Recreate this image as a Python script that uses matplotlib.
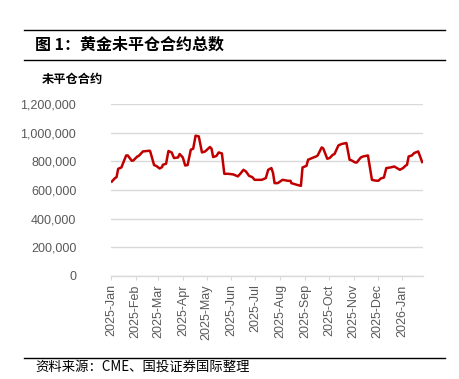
import matplotlib
matplotlib.use("Agg")
import matplotlib.pyplot as plt
import matplotlib.dates as mdates
from matplotlib.ticker import FuncFormatter, FixedLocator
from matplotlib.lines import Line2D
import pandas as pd

dates = [
    "2025-01-02", "2025-01-06", "2025-01-08", "2025-01-10", "2025-01-14", "2025-01-20",
    "2025-01-22", "2025-01-27", "2025-01-29", "2025-02-03", "2025-02-05", "2025-02-10",
    "2025-02-18", "2025-02-19", "2025-02-24", "2025-02-27", "2025-03-03", "2025-03-06",
    "2025-03-07", "2025-03-11", "2025-03-14", "2025-03-18", "2025-03-21", "2025-03-26",
    "2025-03-28", "2025-04-01", "2025-04-04", "2025-04-07", "2025-04-11", "2025-04-14",
    "2025-04-17", "2025-04-21", "2025-04-25", "2025-04-29", "2025-05-05", "2025-05-07",
    "2025-05-09", "2025-05-13", "2025-05-16", "2025-05-20", "2025-05-23", "2025-05-28",
    "2025-06-03", "2025-06-09", "2025-06-12", "2025-06-16", "2025-06-19", "2025-06-23",
    "2025-06-27", "2025-06-30", "2025-07-09", "2025-07-14", "2025-07-17", "2025-07-21",
    "2025-07-23", "2025-07-25", "2025-07-29", "2025-08-04", "2025-08-11", "2025-08-14",
    "2025-08-15", "2025-08-22", "2025-08-27", "2025-08-29", "2025-09-03", "2025-09-05",
    "2025-09-10", "2025-09-15", "2025-09-17", "2025-09-22", "2025-09-24", "2025-09-29",
    "2025-10-02", "2025-10-06", "2025-10-08", "2025-10-13", "2025-10-17", "2025-10-23",
    "2025-10-27", "2025-10-29", "2025-11-03", "2025-11-05", "2025-11-10", "2025-11-13",
    "2025-11-19", "2025-11-24", "2025-11-28", "2025-12-02", "2025-12-05", "2025-12-09",
    "2025-12-12", "2025-12-17", "2025-12-22", "2025-12-29", "2026-01-02", "2026-01-05",
    "2026-01-07", "2026-01-09", "2026-01-13", "2026-01-16", "2026-01-21", "2026-01-26",
]
open_interest = [
    659000, 683000, 690000, 748000, 757000, 841000,
    841000, 804000, 806000, 834000, 839000, 869000,
    874000, 872000, 774000, 767000, 750000, 760000,
    776000, 783000, 872000, 862000, 823000, 827000,
    851000, 827000, 771000, 774000, 881000, 888000,
    979000, 974000, 862000, 869000, 900000, 888000,
    830000, 837000, 862000, 855000, 713000, 713000,
    709000, 695000, 713000, 741000, 730000, 699000,
    690000, 671000, 671000, 683000, 741000, 753000,
    720000, 648000, 648000, 671000, 664000, 664000,
    648000, 636000, 629000, 757000, 769000, 811000,
    823000, 834000, 841000, 897000, 890000, 818000,
    823000, 846000, 850000, 911000, 921000, 928000,
    811000, 808000, 792000, 792000, 827000, 834000,
    841000, 671000, 666000, 664000, 680000, 687000,
    753000, 757000, 764000, 741000, 753000, 769000,
    776000, 834000, 841000, 858000, 869000, 795000,
]
y_ticks = [0, 200000, 400000, 600000, 800000, 1000000, 1200000]
x_tick_dates = ["2025-01-01", "2025-02-01", "2025-03-01", "2025-04-01", "2025-05-01",
                "2025-06-01", "2025-07-01", "2025-08-01", "2025-09-01", "2025-10-01",
                "2025-11-01", "2025-12-01", "2026-01-01"]
title_text = "图 1：黄金未平仓合约总数"
unit_text = "未平仓合约"
source_text = "资料来源：CME、国投证券国际整理"

plt.rcParams['font.family'] = ['Liberation Sans', 'Noto Sans CJK SC', 'DejaVu Sans']

W, H = 460, 379
fig = plt.figure(figsize=(W / 100, H / 100), dpi=100)

ax = fig.add_axes([111 / W, 1 - 276 / H, (423 - 111) / W, (276 - 104) / H])

x = pd.to_datetime(dates)
ax.plot(x, open_interest, color="#c00000", lw=1.8, solid_joinstyle="round")

ax.set_ylim(0, 1200000)
ax.set_yticks(y_ticks)
ax.yaxis.set_major_formatter(FuncFormatter(lambda v, p: f"{int(v):,}"))
ax.set_xlim(pd.Timestamp("2025-01-01"), pd.Timestamp("2026-01-27"))
ax.xaxis.set_major_locator(FixedLocator(mdates.date2num(pd.to_datetime(x_tick_dates))))
ax.xaxis.set_major_formatter(mdates.DateFormatter("%Y-%b"))

ax.grid(axis="y", color="#d9d9d9", lw=1.0)
ax.set_axisbelow(True)
for s in ["top", "right", "left"]:
    ax.spines[s].set_visible(False)
ax.spines["bottom"].set_color("#d9d9d9")
ax.spines["bottom"].set_linewidth(1.0)

ax.tick_params(axis="y", length=0, pad=25, labelsize=9, labelcolor="#595959")
ax.tick_params(axis="x", length=3, width=0.8, color="#d9d9d9", pad=3,
               labelsize=9, labelcolor="#595959", labelrotation=90)
for lab in ax.get_xticklabels():
    lab.set_verticalalignment("top")

# header and footer rules
for yy in (29.5, 59.5, 357.5):
    fig.add_artist(Line2D([24 / W, 445 / W], [1 - yy / H, 1 - yy / H],
                          transform=fig.transFigure, color="black", lw=1.0))

fig.text(35 / W, 1 - 45 / H, title_text, fontsize=11.5, fontweight="bold",
         family=['Noto Sans CJK SC', 'DejaVu Sans'], va="center", ha="left", color="black")
fig.text(42 / W, 1 - 79 / H, unit_text, fontsize=8.8, fontweight="bold",
         family=['Noto Sans CJK SC', 'DejaVu Sans'], va="center", ha="left", color="black")
fig.text(35 / W, 1 - 366.5 / H, source_text, fontsize=9.6, style="italic",
         family=['Noto Sans CJK SC', 'DejaVu Sans'], va="center", ha="left", color="black")

fig.savefig("out.png", dpi=100)
